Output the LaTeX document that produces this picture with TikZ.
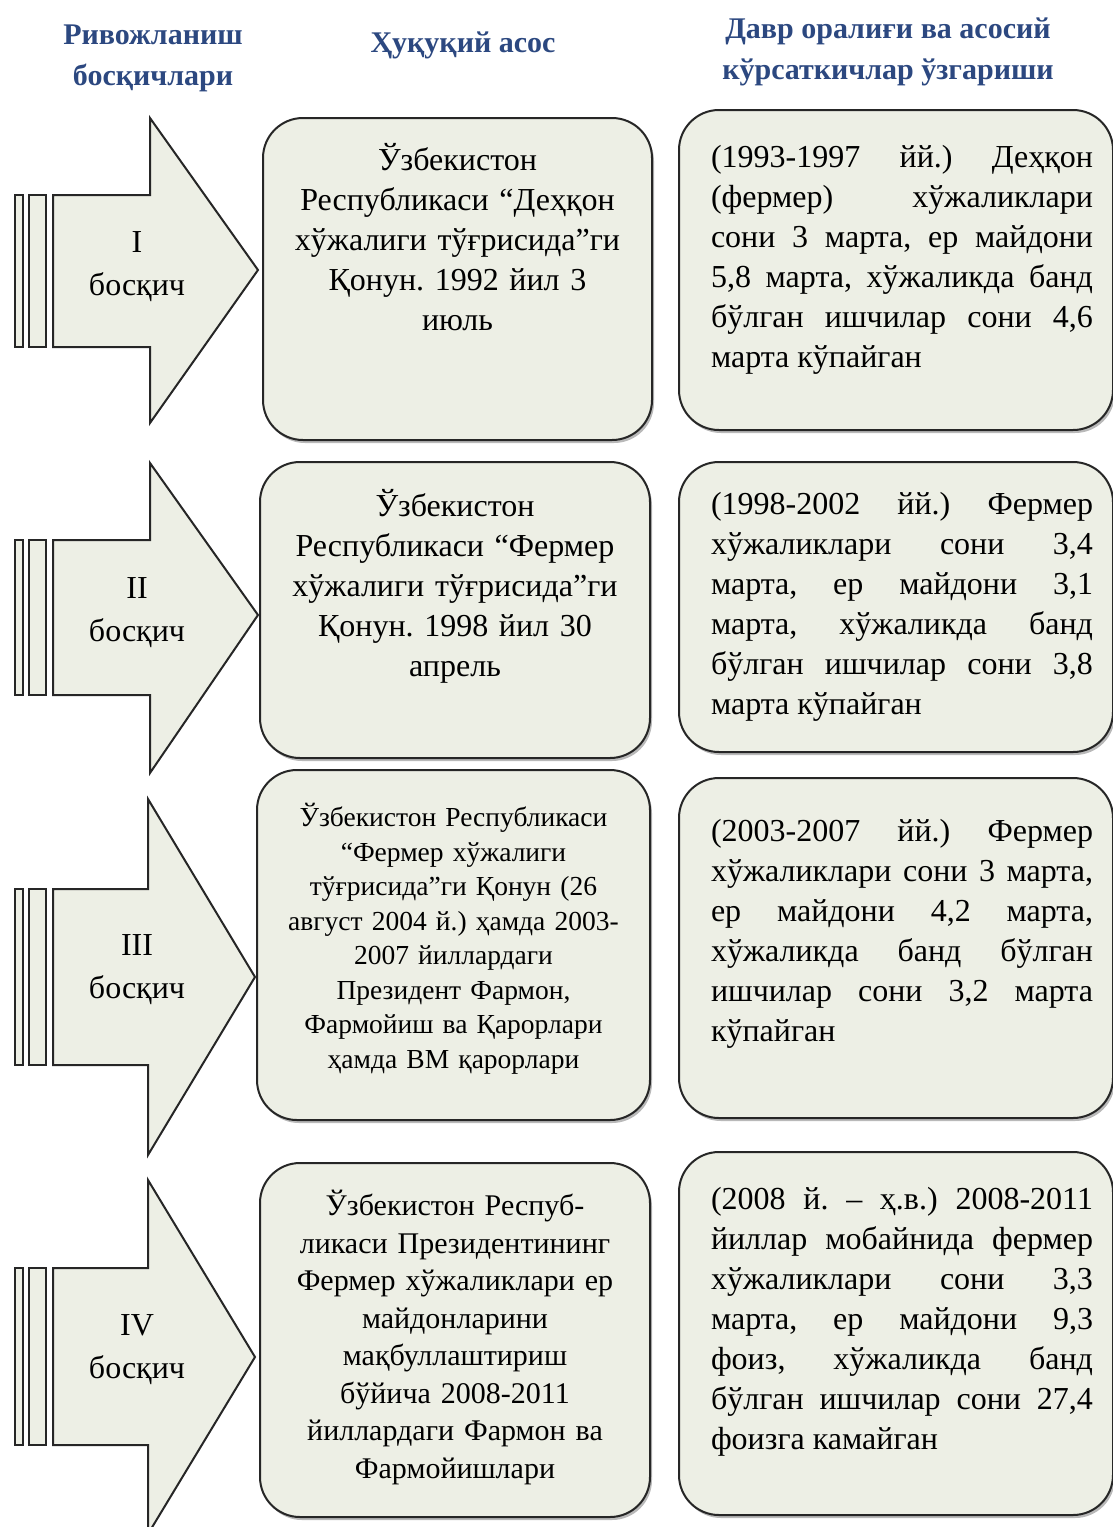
\documentclass[tikz,border=0pt]{standalone}
\usepackage{fontspec}
\setmainfont{Liberation Serif}
\usepackage{tikz}
\usetikzlibrary{positioning,shadows}
\definecolor{boxfill}{RGB}{237,239,229}
\definecolor{headblue}{RGB}{44,72,128}
\frenchspacing

\begin{document}
\begin{tikzpicture}[
x = 1pt, y = -1pt,
modbox/.style={rectangle, draw = black!85, fill = boxfill, line width = 2, rounded corners = 40,
drop shadow = {shadow xshift = 2pt, shadow yshift = -3pt, fill = black!55}},
lawtext/.style={align = center, text width = 372pt, inner sep = 0, font = \fontsize{32}{40}\selectfont},
restext/.style={align = justify, text width = 382pt, inner sep = 0, font = \fontsize{32}{40}\selectfont},
stagearr/.style={draw = black!85, fill = boxfill, line width = 2, line join = miter},
stagetext/.style={align = center, inner sep = 0, font = \fontsize{32}{43}\selectfont},
headtext/.style={align = center, inner sep = 0, text = headblue, font = \bfseries\fontsize{30}{41}\selectfont}]

\useasboundingbox (0,0) rectangle (1113,1527);

% headings
\node[headtext] (hdstage) at (153,58) {Ривожланиш\\босқичлари};
\node[headtext] (hdlaw) at (463,45) {Ҳуқуқий асос};
\node[headtext] (hdres) at (888,52) {Давр оралиғи ва асосий\\кўрсаткичлар ўзгариши};

% stage arrows
\draw[stagearr] (15,195) rectangle (23,347);
\draw[stagearr] (29,195) rectangle (46,347);
\draw[stagearr] (53,195) -| (150,118) -- (258,270) -- (150,423) |- (53,347) -- cycle;
\node[stagetext] (st1) at (137,267) {I\\босқич};

\draw[stagearr] (15,540) rectangle (23,695);
\draw[stagearr] (29,540) rectangle (46,695);
\draw[stagearr] (53,540) -| (150,463) -- (258,615) -- (150,773) |- (53,695) -- cycle;
\node[stagetext] (st2) at (137,613) {II\\босқич};

\draw[stagearr] (15,889) rectangle (23,1065);
\draw[stagearr] (29,889) rectangle (46,1065);
\draw[stagearr] (53,889) -| (148,799) -- (255,977) -- (148,1155) |- (53,1065) -- cycle;
\node[stagetext] (st3) at (137,970) {III\\босқич};

\draw[stagearr] (15,1268) rectangle (23,1445);
\draw[stagearr] (29,1268) rectangle (46,1445);
\draw[stagearr] (53,1268) -| (148,1180) -- (255,1357) -- (148,1534) |- (53,1445) -- cycle;
\node[stagetext] (st4) at (137,1350) {IV\\босқич};

% legal basis
\node[modbox, minimum width = 389, minimum height = 322] (lawA) at (457.5,279) {};
\node[lawtext, below = 26pt of lawA.north] (lawAt) {Ўзбекистон\\Республикаси “Деҳқон\\хўжалиги тўғрисида”ги\\Қонун. 1992 йил 3\\июль};

\node[modbox, minimum width = 390, minimum height = 296] (lawB) at (455,610) {};
\node[lawtext, below = 28pt of lawB.north] (lawBt) {Ўзбекистон\\Республикаси “Фермер\\хўжалиги тўғрисида”ги\\Қонун. 1998 йил 30\\апрель};

\node[modbox, minimum width = 393, minimum height = 350] (lawC) at (453.5,945) {};
\node[lawtext, below = 34pt of lawC.north, font = \fontsize{27.5}{34.5}\selectfont] (lawCt) {Ўзбекистон Республикаси\\“Фермер хўжалиги\\тўғрисида”ги Қонун (26\\август 2004 й.) ҳамда 2003-\\2007 йиллардаги\\Президент Фармон,\\Фармойиш ва Қарорлари\\ҳамда ВМ қарорлари};

\node[modbox, minimum width = 390, minimum height = 354] (lawD) at (455,1340) {};
\node[lawtext, below = 28pt of lawD.north, font = \fontsize{30}{37.5}\selectfont] (lawDt) {Ўзбекистон Респуб-\\ликаси Президентининг\\Фермер хўжаликлари ер\\майдонларини\\мақбуллаштириш\\бўйича 2008-2011\\йиллардаги Фармон ва\\Фармойишлари};

% period and indicators
\node[modbox, minimum width = 434, minimum height = 320] (resA) at (896,270) {};
\node[restext, below = 36pt of resA.north, xshift = 6pt] (resAt) {(1993-1997 йй.) Деҳқон\linebreak (фермер) хўжаликлари\linebreak сони 3 марта, ер майдони\linebreak 5,8 марта, хўжаликда банд\linebreak бўлган ишчилар сони 4,6\linebreak марта кўпайган};

\node[modbox, minimum width = 434, minimum height = 290] (resB) at (896,607) {};
\node[restext, below = 31pt of resB.north, xshift = 6pt] (resBt) {(1998-2002 йй.) Фермер\linebreak хўжаликлари сони 3,4\linebreak марта, ер майдони 3,1\linebreak марта, хўжаликда банд\linebreak бўлган ишчилар сони 3,8\linebreak марта кўпайган};

\node[modbox, minimum width = 434, minimum height = 340] (resC) at (896,948) {};
\node[restext, below = 42pt of resC.north, xshift = 6pt] (resCt) {(2003-2007 йй.) Фермер\linebreak хўжаликлари сони 3 марта,\linebreak ер майдони 4,2 марта,\linebreak хўжаликда банд бўлган\linebreak ишчилар сони 3,2 марта\linebreak кўпайган};

\node[modbox, minimum width = 434, minimum height = 363] (resD) at (896,1333.5) {};
\node[restext, below = 36pt of resD.north, xshift = 6pt] (resDt) {(2008 й. – ҳ.в.) 2008-2011\linebreak йиллар мобайнида фермер\linebreak хўжаликлари сони 3,3\linebreak марта, ер майдони 9,3\linebreak фоиз, хўжаликда банд\linebreak бўлган ишчилар сони 27,4\linebreak фоизга камайган};
\end{tikzpicture}
\end{document}
